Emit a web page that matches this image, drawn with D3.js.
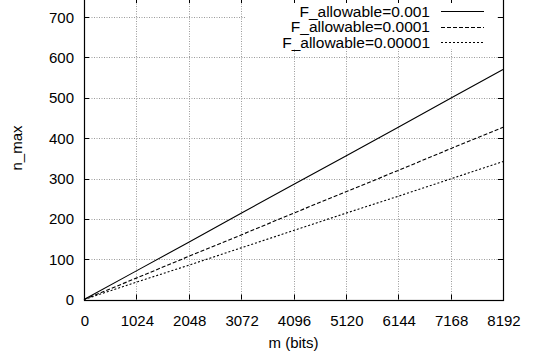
<!DOCTYPE html>
<html>
<head>
<meta charset="utf-8">
<script src="https://cdn.jsdelivr.net/npm/d3@7"></script>
<style>
  body { margin: 0; background: #fff; }
  svg { display: block; font-family: "Liberation Sans", Arial, sans-serif; }
  .tick-label { font-size: 15px; fill: #000; }
  .axis--label { font-size: 15px; fill: #000; }
  .legend--label { font-size: 15.5px; fill: #000; }
</style>
</head>
<body>
<div id="chart"></div>
<script>
// m in bits (x) and n_max for each allowable false positive rate
const mBits = [0, 1024, 2048, 3072, 4096, 5120, 6144, 7168, 8192];
const nMax001 = [0, 71, 142, 214, 285, 356, 427, 499, 570];
const nMax0001 = [0, 53, 107, 160, 214, 267, 320, 374, 427];
const nMax00001 = [0, 43, 85, 128, 171, 214, 256, 299, 342];

const seriesNames = ["F_allowable=0.001", "F_allowable=0.0001", "F_allowable=0.00001"];
const xTicks = [0, 1024, 2048, 3072, 4096, 5120, 6144, 7168, 8192];
const yTicks = [0, 100, 200, 300, 400, 500, 600, 700];

const width = 541;
const height = 358;
const margin = {top: -3, left: 84, right: 38, bottom: 58.5};

const svg = d3.select("#chart")
    .append("svg")
    .attr("width", width)
    .attr("height", height);

svg.append("rect").attr("width", width).attr("height", height).attr("fill", "#fff");

/*
SCALES
*/
const xScale = d3.scaleLinear()
    .domain([0, 8192])
    .range([margin.left, width - margin.right]);

const yScale = d3.scaleLinear()
    .domain([0, 750])
    .range([height - margin.bottom, margin.top]);

const x0 = xScale.range()[0], x1 = xScale.range()[1];
const y0 = yScale.range()[0], y1 = yScale.range()[1];

/*
GRID
*/
const grid = svg.append("g")
    .attr("stroke", "#9a9a9a")
    .attr("stroke-width", 1)
    .attr("stroke-dasharray", "1,1.5");

grid.selectAll(".gx").data(xTicks.slice(1, -1)).enter()
    .append("line")
    .attr("x1", d => Math.round(xScale(d)) + 0.5)
    .attr("x2", d => Math.round(xScale(d)) + 0.5)
    .attr("y1", y0).attr("y2", y1);

grid.selectAll(".gy").data(yTicks.slice(1)).enter()
    .append("line")
    .attr("y1", d => Math.round(yScale(d)) + 0.5)
    .attr("y2", d => Math.round(yScale(d)) + 0.5)
    .attr("x1", x0).attr("x2", x1);

/*
LEGEND BACKGROUND (key hides the grid)
*/
svg.append("rect")
    .attr("x", 245).attr("y", 3)
    .attr("width", 252).attr("height", 46)
    .attr("fill", "#fff");

/*
LINES
*/
const series = [
    {name: seriesNames[0], values: nMax001, dash: null},
    {name: seriesNames[1], values: nMax0001, dash: "4,2"},
    {name: seriesNames[2], values: nMax00001, dash: "2,2"}
];

const line = d3.line()
    .x((d, i) => xScale(mBits[i]))
    .y(d => yScale(d));

svg.selectAll(".series").data(series).enter()
    .append("path")
    .attr("d", d => line(d.values))
    .attr("fill", "none")
    .attr("stroke", "#000")
    .attr("stroke-width", 1.1)
    .attr("stroke-dasharray", d => d.dash);

/*
BORDER AND TICKS
*/
svg.append("rect")
    .attr("x", Math.round(x0) + 0.5).attr("y", y1)
    .attr("width", Math.round(x1) - Math.round(x0)).attr("height", Math.round(y0) - y1 + 0.5)
    .attr("fill", "none").attr("stroke", "#000").attr("stroke-width", 1.2);

const tl = 5;
const ticks = svg.append("g").attr("stroke", "#000").attr("stroke-width", 1);
xTicks.slice(1, -1).forEach(function(t) {
    const x = Math.round(xScale(t)) + 0.5;
    ticks.append("line").attr("x1", x).attr("x2", x).attr("y1", y0).attr("y2", y0 - tl);
    ticks.append("line").attr("x1", x).attr("x2", x).attr("y1", y1).attr("y2", y1 + tl + 1);
});
yTicks.slice(1).forEach(function(t) {
    const y = Math.round(yScale(t)) + 0.5;
    ticks.append("line").attr("x1", x0).attr("x2", x0 + tl).attr("y1", y).attr("y2", y);
    ticks.append("line").attr("x1", x1).attr("x2", x1 - tl).attr("y1", y).attr("y2", y);
});

/*
TICK LABELS
*/
svg.selectAll(".xl").data(xTicks).enter()
    .append("text")
    .attr("class", "tick-label")
    .attr("x", d => xScale(d) + 1)
    .attr("y", y0 + 26)
    .attr("text-anchor", "middle")
    .text(d => d);

svg.selectAll(".yl").data(yTicks).enter()
    .append("text")
    .attr("class", "tick-label")
    .attr("x", x0 - 10)
    .attr("y", d => yScale(d) + 5.5)
    .attr("text-anchor", "end")
    .text(d => d);

/*
AXIS LABELS
*/
svg.append("text")
    .attr("class", "axis--label")
    .attr("x", (x0 + x1) / 2)
    .attr("y", y0 + 48)
    .attr("text-anchor", "middle")
    .text("m (bits)");

svg.append("text")
    .attr("class", "axis--label")
    .attr("transform", "rotate(-90)")
    .attr("x", -148)
    .attr("y", 22)
    .attr("text-anchor", "middle")
    .text("n_max");

/*
LEGEND
*/
const legendRows = [11, 26.5, 42];
series.forEach(function(s, i) {
    svg.append("text")
        .attr("class", "legend--label")
        .attr("x", 430)
        .attr("y", legendRows[i] + 5.5)
        .attr("text-anchor", "end")
        .text(s.name);
    svg.append("line")
        .attr("x1", 441).attr("x2", 484)
        .attr("y1", Math.round(legendRows[i]) + 0.5).attr("y2", Math.round(legendRows[i]) + 0.5)
        .attr("stroke", "#000")
        .attr("stroke-width", 1)
        .attr("stroke-dasharray", s.dash);
});
</script>
</body>
</html>
